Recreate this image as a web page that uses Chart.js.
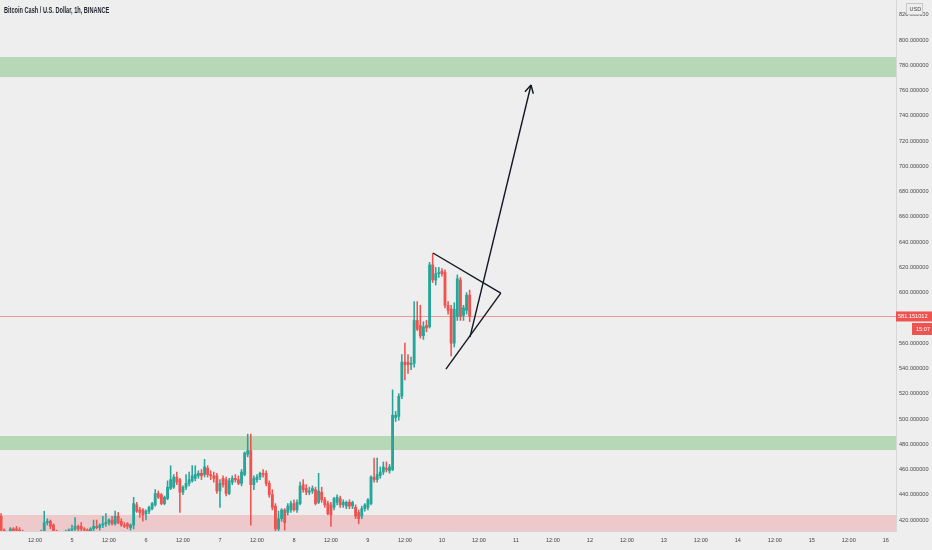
<!DOCTYPE html>
<html>
<head>
<meta charset="utf-8">
<script src="https://cdn.jsdelivr.net/npm/chart.js@4.4.1/dist/chart.umd.min.js"></script>
<style>
  html, body { margin: 0; padding: 0; background: #eeeeee; }
  #wrap { position: relative; width: 932px; height: 550px; }
  #title { position: absolute; left: 4px; top: 5px; font: bold 8.5px "Liberation Sans", Arial, sans-serif; color: #1e222d; white-space: nowrap; transform: scaleX(0.66); transform-origin: 0 0; }
</style>
</head>
<body>
<div id="wrap">
  <canvas id="chart" width="932" height="550"></canvas>
  <div id="title">Bitcoin Cash / U.S. Dollar, 1h, BINANCE</div>
</div>
<script>
// hourly candles, first one sits at hour 1 (hour 0 = day 4, 00:00)
const firstHour = 1;
const opens = [423,412,409,410,413,413,412,411,408,409,407,405,407,410,411,418,419,416,411,409,
  408,409,411,412,413,415,415,413,412,411,413,415,414,416,417,418,420,417,423,419,
  416,417,414,416,432,428,428,425,427,429,432,441,440,433,437,445,446,454,452,442,
  446,449,451,453,455,457,456,461,456,455,455,443,453,452,441,450,453,452,449,456,
  472,475,448,452,454,457,457,449,440,431,413,421,428,426,428,433,428,433,448,445,
  442,443,444,434,442,436,433,432,430,434,437,432,431,434,431,430,426,423,429,430,
  433,454,452,455,458,461,459,460,501,502,518,545,545,543,544,578,574,566,574,573,
  622,610,615,617,616,590,587,560,581,610,582,586,598];
const highs = [425,413,411,414,414,415,414,412,410,411,409,408,411,412,427,421,420,417,412,411,
  410,412,413,416,422,416,418,414,413,414,420,420,417,423,425,421,423,427,426,421,
  418,418,417,438,434,430,429,428,431,434,444,443,441,439,451,463,456,458,453,447,
  456,458,463,463,459,460,468,463,459,458,457,452,455,454,453,455,456,455,460,474,
  488,488,455,456,458,460,459,451,444,433,427,429,429,433,435,436,436,450,452,448,
  446,447,446,457,446,438,435,434,438,440,439,436,435,436,435,432,428,431,433,437,
  455,469,469,462,466,466,464,523,506,520,551,560,551,549,593,593,590,577,578,624,
  631,620,620,619,618,593,590,592,614,612,590,600,602];
const lows = [410,408,407,409,410,411,410,407,406,405,404,403,405,408,410,416,413,410,407,406,
  405,407,409,410,411,411,411,410,409,410,411,413,412,414,415,416,416,416,417,415,
  414,413,412,413,426,422,419,420,425,428,431,437,432,432,436,444,445,448,426,440,
  444,447,450,451,453,452,454,454,452,450,441,430,446,439,440,448,450,448,447,455,
  470,416,444,450,452,454,447,438,428,411,411,419,412,424,426,427,426,432,442,440,
  440,441,432,433,434,430,424,415,428,432,430,430,429,429,429,421,417,421,427,428,
  432,450,450,453,456,458,457,459,498,499,516,531,536,539,541,570,564,563,569,572,
  608,606,612,613,588,583,550,557,578,578,578,583,577];
const closes = [412,409,410,413,411,412,411,408,409,407,405,407,410,411,418,419,415,411,409,408,
  409,411,412,413,415,413,413,412,411,413,415,414,416,417,418,420,417,423,418,416,
  415,415,416,433,427,426,424,427,430,433,441,438,433,438,446,452,454,450,442,446,
  449,452,455,456,457,455,462,456,455,453,443,449,448,441,451,453,452,449,458,473,
  475,448,453,454,457,456,449,440,430,413,421,428,418,431,433,428,434,447,444,442,
  443,445,433,443,436,432,425,424,437,438,432,434,434,431,434,423,421,429,432,436,
  454,452,456,458,462,460,462,503,503,518,545,543,543,544,578,571,566,573,572,622,
  610,615,616,615,590,586,560,587,611,581,588,598,581.151012];

// price zones (low, high)
const greenZones = [[770.7, 786.5], [475.4, 486.5]];
const redZones = [[400, 424]];

// drawings: pennant sides and breakout arrow, as [hour, price]
const pennantTop = [[141.1, 631.4], [163.1, 599.7]];
const pennantBottom = [[145.3, 539.5], [163.1, 599.7]];
const arrowLine = [[153.1, 564.8], [172.9, 764.4]];

const xTickHours = [12,24,36,48,60,72,84,96,108,120,132,144,156,168,180,192,204,216,228,240,252,264,276,288];
const xTickLabels = ['12:00','5','12:00','6','12:00','7','12:00','8','12:00','9','12:00','10',
  '12:00','11','12:00','12','12:00','13','12:00','14','12:00','15','12:00','16'];
const yTicks = [420,440,460,480,500,520,540,560,580,600,620,640,660,680,700,720,740,760,780,800,820];
const lastPrice = closes[closes.length - 1];
const countdown = '15:07';

const up = '#26a69a';
const down = '#ef5350';
const fontFamily = '"Liberation Sans", Arial, sans-serif';
const axisFont = { family: fontFamily, size: 5.6 };

const hours = opens.map((o, i) => firstHour + i);
const colors = opens.map((o, i) => closes[i] >= o ? up : down);

const bandsPlugin = {
    id: 'bands',
    beforeDatasetsDraw(chart) {
        const { ctx, chartArea: a, scales: { y } } = chart;
        ctx.save();
        ctx.beginPath();
        ctx.rect(a.left, a.top, a.width, a.height);
        ctx.clip();
        const band = (z, fill) => {
            const top = y.getPixelForValue(z[1]);
            const bot = y.getPixelForValue(z[0]);
            ctx.fillStyle = fill;
            ctx.fillRect(a.left, top, a.width, bot - top);
        };
        greenZones.forEach(z => band(z, 'rgba(76, 175, 80, 0.35)'));
        redZones.forEach(z => band(z, 'rgba(242, 54, 69, 0.2)'));
        // last price line
        const py = Math.round(y.getPixelForValue(lastPrice)) + 0.5;
        ctx.strokeStyle = 'rgba(239, 83, 80, 0.55)';
        ctx.lineWidth = 1;
        ctx.beginPath();
        ctx.moveTo(a.left, py);
        ctx.lineTo(a.right, py);
        ctx.stroke();
        ctx.restore();
    }
};

const overlayPlugin = {
    id: 'overlay',
    afterDatasetsDraw(chart) {
        const { ctx, scales: { x, y } } = chart;
        const [p0, p1] = arrowLine.map(p => [x.getPixelForValue(p[0]), y.getPixelForValue(p[1])]);
        const ang = Math.atan2(p1[1] - p0[1], p1[0] - p0[0]);
        ctx.save();
        ctx.strokeStyle = '#131722';
        ctx.lineWidth = 1.4;
        ctx.beginPath();
        [-1, 1].forEach(s => {
            ctx.moveTo(p1[0], p1[1]);
            ctx.lineTo(p1[0] - 9 * Math.cos(ang + s * 0.5), p1[1] - 9 * Math.sin(ang + s * 0.5));
        });
        ctx.stroke();
        ctx.restore();
    },
    afterDraw(chart) {
        const { ctx, chartArea: a, scales: { y }, width } = chart;
        const py = y.getPixelForValue(lastPrice);
        ctx.save();
        ctx.fillStyle = down;
        ctx.fillRect(a.right, py - 5, width - a.right, 10);
        ctx.fillRect(width - 20, py + 6.5, 20, 12);
        ctx.fillStyle = '#ffffff';
        ctx.font = '5.6px ' + fontFamily;
        ctx.textBaseline = 'middle';
        ctx.fillText(lastPrice.toFixed(6), a.right + 2, py);
        ctx.fillText(countdown, width - 16, py + 12.5);
        // currency box
        ctx.fillStyle = '#eeeeee';
        ctx.strokeStyle = '#c8c8c8';
        ctx.lineWidth = 1;
        ctx.fillRect(906.5, 3.5, 16, 11);
        ctx.strokeRect(906.5, 3.5, 16, 11);
        ctx.fillStyle = '#444';
        ctx.font = '5.5px ' + fontFamily;
        ctx.fillText('USD', 909.5, 9);
        ctx.restore();
    }
};

const lineSet = (pts) => ({
    type: 'line',
    data: pts.map(p => ({ x: p[0], y: p[1] })),
    borderColor: '#131722',
    borderWidth: 1.4,
    pointRadius: 0,
    fill: false,
    tension: 0,
    order: 0
});

new Chart(document.getElementById('chart'), {
    type: 'bar',
    data: {
        datasets: [
            lineSet(pennantTop),
            lineSet(pennantBottom),
            lineSet(arrowLine),
            {
                label: 'body',
                data: hours.map((h, i) => ({ x: h, y: [opens[i], closes[i]] })),
                backgroundColor: colors,
                barThickness: 2.2,
                minBarLength: 1,
                grouped: false,
                order: 1
            },
            {
                label: 'wick',
                data: hours.map((h, i) => ({ x: h, y: [lows[i], highs[i]] })),
                backgroundColor: colors,
                barThickness: 0.9,
                grouped: false,
                order: 2
            }
        ]
    },
    options: {
        responsive: false,
        animation: false,
        layout: { padding: 0 },
        plugins: { legend: { display: false }, tooltip: { enabled: false } },
        scales: {
            x: {
                type: 'linear',
                min: 0.649,
                max: 291.3,
                offset: false,
                grid: { display: false, drawTicks: false, offset: false },
                border: { display: true, color: '#d6d6d6' },
                ticks: {
                    font: axisFont, color: '#444', padding: 6, maxRotation: 0, autoSkip: false,
                    callback: (v) => xTickLabels[xTickHours.indexOf(v)]
                },
                afterBuildTicks: (s) => { s.ticks = xTickHours.map(v => ({ value: v })); },
                afterFit: (s) => { s.height = 19; s.paddingLeft = 0; s.paddingRight = 0; }
            },
            y: {
                position: 'right',
                min: 411.3,
                max: 831.7,
                grid: { display: false, drawTicks: false },
                border: { display: true, color: '#d6d6d6' },
                ticks: {
                    font: axisFont, color: '#4a4a4a', padding: 3,
                    callback: (v) => v.toFixed(6)
                },
                afterBuildTicks: (s) => { s.ticks = yTicks.map(v => ({ value: v })); },
                afterFit: (s) => { s.width = 36; s.paddingTop = 0; s.paddingBottom = 0; }
            }
        }
    },
    plugins: [bandsPlugin, overlayPlugin]
});
</script>
</body>
</html>
